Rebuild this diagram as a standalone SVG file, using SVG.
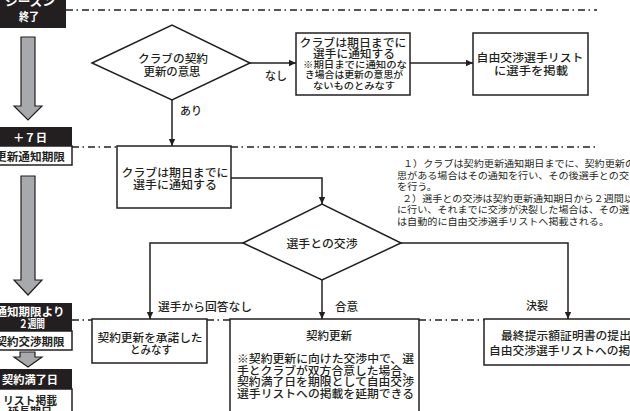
<svg xmlns="http://www.w3.org/2000/svg" width="630" height="411" viewBox="0 0 630 411">
<defs>
<style>
.t{font-family:"Noto Sans CJK JP","Noto Sans CJK SC",sans-serif;font-size:11px;font-weight:500;fill:#231f20;dominant-baseline:central}
.s{font-size:9.6px}
.n{font-size:9.4px;font-weight:400}
.b{font-weight:700}
.w{fill:#ffffff}
.m{text-anchor:middle}
.box{fill:#ffffff;stroke:#231f20;stroke-width:1.5}
.blk{fill:#231f20}
.gray{fill:#a7a9ac;stroke:#231f20;stroke-width:1.2}
.dash{fill:none;stroke:#231f20;stroke-width:1.4;stroke-dasharray:7 3.5 1.5 4}
.conn{fill:none;stroke:#231f20;stroke-width:1.5;marker-end:url(#ah)}
</style>
<marker id="ah" markerUnits="userSpaceOnUse" markerWidth="8" markerHeight="8" refX="7" refY="4" orient="auto">
<path d="M0,0.8 L7,4 L0,7.2 z" fill="#231f20"/>
</marker>
</defs>

<g id="timelines">
<path class="dash" d="M66,10 H597"/>
<path class="dash" d="M72,147 H117 M231,147 H597"/>
<path class="dash" d="M72,320 H92 M207,320 H230 M419,320 H484"/>
</g>

<g id="timeline-left">
<g id="season-end">
<rect class="blk" x="-14" y="-10" width="80" height="38"/>
<text class="t b w m" x="30" y="1" textLength="50" lengthAdjust="spacingAndGlyphs">シーズン</text>
<text class="t b w m" x="29" y="16" textLength="20" lengthAdjust="spacingAndGlyphs">終了</text>
</g>
<polygon id="arrow1" class="gray" points="21,37 35,37 35,106 42,106 28,120 14,106 21,106"/>
<g id="plus7">
<rect class="blk" x="-14" y="127" width="86" height="19"/>
<text class="t b w m" x="30" y="137" textLength="34" lengthAdjust="spacingAndGlyphs">＋７日</text>
<rect class="box" x="-14" y="146" width="86" height="19"/>
<text class="t b m" x="30" y="156" textLength="70" lengthAdjust="spacingAndGlyphs">更新通知期限</text>
</g>
<polygon id="arrow2" class="gray" points="21,176 35,176 35,280 42,280 28,295 14,280 21,280"/>
<g id="two-weeks">
<rect class="blk" x="-14" y="303" width="86" height="28"/>
<text class="t b w m" x="30" y="311" textLength="69" lengthAdjust="spacingAndGlyphs">通知期限より</text>
<text class="t b w m" x="32" y="323" textLength="26" lengthAdjust="spacingAndGlyphs">２週間</text>
<rect class="box" x="-14" y="331" width="86" height="19"/>
<text class="t b m" x="30" y="341" textLength="69" lengthAdjust="spacingAndGlyphs">契約交渉期限</text>
</g>
<polygon id="arrow3" class="gray" points="20,352 35,352 35,357 42,357 28,367 14,357 20,357"/>
<g id="expiry">
<rect class="blk" x="-14" y="369" width="86" height="20"/>
<text class="t b w m" x="30" y="379" textLength="56" lengthAdjust="spacingAndGlyphs">契約満了日</text>
<rect class="box" x="-14" y="389" width="86" height="30"/>
<text class="t b m" x="30" y="400" textLength="54" lengthAdjust="spacingAndGlyphs">リスト掲載</text>
<text class="t b m" x="30" y="411" textLength="44" lengthAdjust="spacingAndGlyphs">延長期日</text>
</g>
</g>

<g id="connectors">
<path class="conn" d="M250,63 H296"/>
<path class="conn" d="M172,100 V146"/>
<path class="conn" d="M410,63 H473"/>
<path class="conn" d="M231,178 H322 V204"/>
<path class="conn" d="M243,243 H150 V319"/>
<path class="conn" d="M322,280 V319"/>
<path class="conn" d="M401,243 H568 V319"/>
<text class="t" x="265" y="75" textLength="22" lengthAdjust="spacingAndGlyphs">なし</text>
<text class="t" x="180" y="110" textLength="22" lengthAdjust="spacingAndGlyphs">あり</text>
<text class="t" x="158" y="306" textLength="94" lengthAdjust="spacingAndGlyphs">選手から回答なし</text>
<text class="t" x="335" y="306" textLength="23" lengthAdjust="spacingAndGlyphs">合意</text>
<text class="t" x="526" y="305" textLength="22" lengthAdjust="spacingAndGlyphs">決裂</text>
</g>

<g id="d1">
<polygon class="box" points="92,63 172,25 250,63 172,100"/>
<text class="t m" x="173" y="58" textLength="70" lengthAdjust="spacingAndGlyphs">クラブの契約</text>
<text class="t m" x="172" y="71" textLength="57" lengthAdjust="spacingAndGlyphs">更新の意思</text>
</g>

<g id="b2">
<rect class="box" x="296" y="33" width="114" height="62"/>
<text class="t m" x="353" y="42" textLength="107" lengthAdjust="spacingAndGlyphs">クラブは期日までに</text>
<text class="t m" x="354" y="53" textLength="82" lengthAdjust="spacingAndGlyphs">選手に通知する</text>
<text class="t s m" x="355" y="63.5" textLength="104" lengthAdjust="spacingAndGlyphs">※期日までに通知のな</text>
<text class="t s m" x="354" y="74" textLength="98" lengthAdjust="spacingAndGlyphs">き場合は更新の意思が</text>
<text class="t s m" x="354" y="84.5" textLength="82" lengthAdjust="spacingAndGlyphs">ないものとみなす</text>
</g>

<g id="b3">
<rect class="box" x="473" y="33" width="115" height="62"/>
<text class="t m" x="530" y="57" textLength="107" lengthAdjust="spacingAndGlyphs">自由交渉選手リスト</text>
<text class="t m" x="531" y="70" textLength="74" lengthAdjust="spacingAndGlyphs">に選手を掲載</text>
</g>

<g id="b4">
<rect class="box" x="117" y="146" width="114" height="62"/>
<text class="t m" x="175" y="172" textLength="107" lengthAdjust="spacingAndGlyphs">クラブは期日までに</text>
<text class="t m" x="175" y="184" textLength="84" lengthAdjust="spacingAndGlyphs">選手に通知する</text>
</g>

<g id="notes">
<text class="t n" x="403" y="163" textLength="232" lengthAdjust="spacingAndGlyphs">１）クラブは契約更新通知期日までに、契約更新の</text>
<text class="t n" x="397" y="174.5" textLength="232" lengthAdjust="spacingAndGlyphs">思がある場合はその通知を行い、その後選手との交</text>
<text class="t n" x="397" y="186" textLength="40" lengthAdjust="spacingAndGlyphs">を行う。</text>
<text class="t n" x="402" y="197.5" textLength="232" lengthAdjust="spacingAndGlyphs">２）選手との交渉は契約更新通知期日から２週間以</text>
<text class="t n" x="397" y="209" textLength="232" lengthAdjust="spacingAndGlyphs">に行い、それまでに交渉が決裂した場合は、その選</text>
<text class="t n" x="397" y="220.5" textLength="212" lengthAdjust="spacingAndGlyphs">は自動的に自由交渉選手リストへ掲載される。</text>
</g>

<g id="d2">
<polygon class="box" points="243,243 322,204 401,243 322,280"/>
<text class="t m" x="322" y="243" textLength="71" lengthAdjust="spacingAndGlyphs">選手との交渉</text>
</g>

<g id="b5">
<rect class="box" x="92" y="319" width="115" height="44"/>
<text class="t m" x="150" y="337" textLength="105" lengthAdjust="spacingAndGlyphs">契約更新を承諾した</text>
<text class="t m" x="151" y="349" textLength="42" lengthAdjust="spacingAndGlyphs">とみなす</text>
</g>

<g id="b6">
<rect class="box" x="230" y="319" width="189" height="100"/>
<text class="t m" x="329" y="335" textLength="46" lengthAdjust="spacingAndGlyphs">契約更新</text>
<text class="t" x="237" y="358" textLength="177" lengthAdjust="spacingAndGlyphs">※契約更新に向けた交渉中で、選</text>
<text class="t" x="237" y="369.5" textLength="177" lengthAdjust="spacingAndGlyphs">手とクラブが双方合意した場合、</text>
<text class="t" x="237" y="381" textLength="177" lengthAdjust="spacingAndGlyphs">契約満了日を期限として自由交渉</text>
<text class="t" x="237" y="392.5" textLength="177" lengthAdjust="spacingAndGlyphs">選手リストへの掲載を延期できる</text>
</g>

<g id="b7">
<rect class="box" x="484" y="319" width="170" height="46"/>
<text class="t" x="501" y="335" textLength="130" lengthAdjust="spacingAndGlyphs">最終提示額証明書の提出</text>
<text class="t" x="489" y="350" textLength="153" lengthAdjust="spacingAndGlyphs">自由交渉選手リストへの掲載</text>
</g>
</svg>
